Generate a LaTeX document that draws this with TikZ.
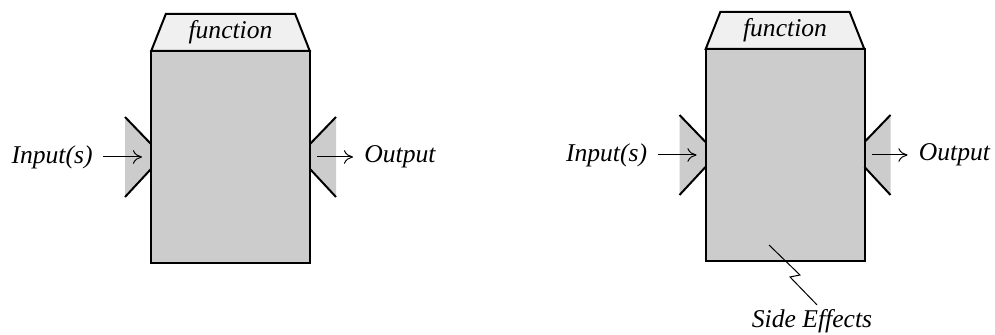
\documentclass[tikz,border=0pt]{standalone}
\usepackage{fontspec}
\setmainfont{Liberation Serif}
\usetikzlibrary{arrows.meta,positioning,shapes.geometric,backgrounds}
\definecolor{boxgray}{gray}{0.8}
\definecolor{lidgray}{gray}{0.94}

\begin{document}
\begin{tikzpicture}[
    x=0.5pt, y=-0.5pt,
    font=\fontsize{12.8}{15}\selectfont\itshape,
    box/.style={
        draw,
        line width=1pt,
        fill=boxgray,
        minimum width=79.5pt,
        minimum height=106pt,
        inner sep=0pt,
        outer sep=0pt
    },
    lid/.style={
        draw,
        line width=1pt,
        fill=lidgray,
        trapezium,
        trapezium left angle=68,
        trapezium right angle=68,
        trapezium stretches=true,
        minimum width=79.5pt,
        minimum height=18.5pt,
        inner sep=0pt,
        outer sep=0pt
    },
    port/.style={fill=boxgray},
    notch/.style={line width=1pt},
    txt/.style={inner sep=0pt},
    arrow/.style={-{To[length=1.6mm,width=2.4mm]},line width=0.5pt}
]
\useasboundingbox (0,0) rectangle (995,335);

% pure function
\node[box] (fun1) at (230.5,157) {};
\node[lid, above=0pt of fun1] (lid1) {function};

\begin{scope}[on background layer]
\fill[port] ([shift={(-26,-40)}]fun1.west) -- ([shift={(0,-13)}]fun1.west)
    -- ([shift={(0,12)}]fun1.west) -- ([shift={(-26,40)}]fun1.west) -- cycle;
\fill[port] ([shift={(26,-40)}]fun1.east) -- ([shift={(0,-13)}]fun1.east)
    -- ([shift={(0,12)}]fun1.east) -- ([shift={(26,40)}]fun1.east) -- cycle;
\end{scope}
\draw[notch] ([shift={(-26,-40)}]fun1.west) -- ([shift={(0,-13)}]fun1.west);
\draw[notch] ([shift={(-26,40)}]fun1.west) -- ([shift={(0,12)}]fun1.west);
\draw[notch] ([shift={(26,-40)}]fun1.east) -- ([shift={(0,-13)}]fun1.east);
\draw[notch] ([shift={(26,40)}]fun1.east) -- ([shift={(0,12)}]fun1.east);

\coordinate[left=4.5pt of fun1.west] (in1 tip);
\node[txt, left=24.5pt of in1 tip] (in1) {Input(s)};
\coordinate[right=3.5pt of fun1.east] (out1 tail);
\node[txt, right=23.5pt of out1 tail] (out1) {Output};

\draw[arrow, shorten <=5pt] (in1.east) -- (in1 tip);
\draw[arrow, shorten >=5.5pt] (out1 tail) -- (out1.west);

% function with side effects
\node[box] (fun2) at (785,155) {};
\node[lid, above=0pt of fun2] (lid2) {function};

\begin{scope}[on background layer]
\fill[port] ([shift={(-26,-40)}]fun2.west) -- ([shift={(0,-13)}]fun2.west)
    -- ([shift={(0,12)}]fun2.west) -- ([shift={(-26,40)}]fun2.west) -- cycle;
\fill[port] ([shift={(26,-40)}]fun2.east) -- ([shift={(0,-13)}]fun2.east)
    -- ([shift={(0,12)}]fun2.east) -- ([shift={(26,40)}]fun2.east) -- cycle;
\end{scope}
\draw[notch] ([shift={(-26,-40)}]fun2.west) -- ([shift={(0,-13)}]fun2.west);
\draw[notch] ([shift={(-26,40)}]fun2.west) -- ([shift={(0,12)}]fun2.west);
\draw[notch] ([shift={(26,-40)}]fun2.east) -- ([shift={(0,-13)}]fun2.east);
\draw[notch] ([shift={(26,40)}]fun2.east) -- ([shift={(0,12)}]fun2.east);

\coordinate[left=4.5pt of fun2.west] (in2 tip);
\node[txt, left=24.5pt of in2 tip] (in2) {Input(s)};
\coordinate[right=3.5pt of fun2.east] (out2 tail);
\node[txt, right=23.5pt of out2 tail] (out2) {Output};

\draw[arrow, shorten <=5pt] (in2.east) -- (in2 tip);
\draw[arrow, shorten >=5.5pt] (out2 tail) -- (out2.west);

\coordinate (side) at ([shift={(-16,90)}]fun2.center);
\node[txt] (effects) at (812,321) {Side Effects};
\draw[line width=0.5pt] (side) -- ++(31,30) -- ++(-10,2) -- ([shift={(5,-4)}]effects.north);

\end{tikzpicture}
\end{document}
